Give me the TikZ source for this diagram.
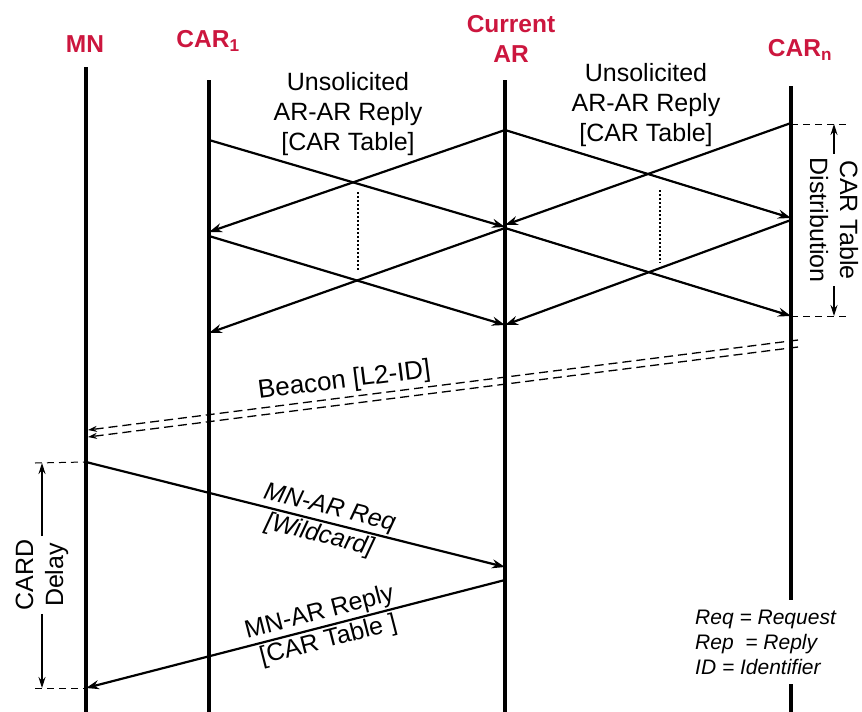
\documentclass[tikz,border=0pt]{standalone}
\usepackage{fontspec}
\setmainfont{Liberation Sans}
\usepackage{xcolor}
\usepackage{tikz}
\usetikzlibrary{arrows.meta}
\definecolor{hdrred}{RGB}{204,22,62}

\begin{document}
\begin{tikzpicture}[x=1pt, y=-1pt,
    actor/.style={font=\fontsize{24.5}{30}\selectfont\bfseries, text=hdrred, align=center},
    lifeline/.style={line width=4.5pt},
    arrow/.style={line width=2.2pt, ->, >={Stealth[length=13pt,width=9pt]}},
    beacon/.style={line width=1.3pt, dash pattern=on 9pt off 5pt, ->, >={Stealth[length=9pt,width=6pt]}},
    waitline/.style={line width=2.2pt, dash pattern=on 2pt off 2pt},
    guide/.style={line width=1pt, dash pattern=on 7pt off 5pt},
    dimarrow/.style={line width=1.2pt, ->, >={Stealth[length=11pt,width=7pt]}},
    msgtext/.style={font=\fontsize{25}{30}\selectfont, align=center},
    legend/.style={font=\fontsize{21}{25}\selectfont\itshape, align=left, fill=white, inner xsep=5pt, inner ysep=10pt}]

    \useasboundingbox (0,0) rectangle (862,712);

    % 节点定义
    \node [actor] (mn) at (85,44) {MN};
    \node [actor] (car1) at (208,41) {CAR\textsubscript{1}};
    \node [actor] (cur) at (511,39) {Current\\AR};
    \node [actor] (carn) at (800,50) {CAR\textsubscript{n}};

    % 生命线
    \coordinate (mn-top) at (86,67);
    \coordinate (car1-top) at (209,80);
    \coordinate (cur-top) at (505,80);
    \coordinate (carn-top) at (791,86);
    \draw [lifeline] (mn-top) -- (86,712);
    \draw [lifeline] (car1-top) -- (209,712);
    \draw [lifeline] (cur-top) -- (505,712);
    \draw [lifeline] (carn-top) -- (791,712);

    % 消息端点
    \coordinate (a1) at (209,140);
    \coordinate (a2) at (209,232);
    \coordinate (a3) at (209,236);
    \coordinate (a4) at (209,333);
    \coordinate (b0) at (505,130);
    \coordinate (b1) at (505,227);
    \coordinate (b2) at (505,225);
    \coordinate (b3) at (505,228);
    \coordinate (b4) at (505,325);
    \coordinate (b5) at (505,325);
    \coordinate (c0) at (791,123);
    \coordinate (c1) at (791,218);
    \coordinate (c2) at (791,220);
    \coordinate (c3) at (791,316);

    % CAR 表分发
    \draw [arrow] (a1) -- (b1);
    \draw [arrow] (b0) -- (a2);
    \draw [arrow] (b0) -- (c1);
    \draw [arrow] (c0) -- (b2);
    \draw [arrow] (a3) -- (b4);
    \draw [arrow] (b3) -- (a4);
    \draw [arrow] (b3) -- (c3);
    \draw [arrow] (c2) -- (b5);
    \draw [waitline] (358,192) -- (358,270);
    \draw [waitline] (660,190) -- (660,263);
    \node [msgtext] (unsol1) at (348,114) {Unsolicited\\AR-AR Reply\\{}[CAR Table]};
    \node [msgtext] (unsol2) at (646,105) {Unsolicited\\AR-AR Reply\\{}[CAR Table]};

    % 信标
    \coordinate (bcn-s1) at (798,340);
    \coordinate (bcn-e1) at (88,430);
    \coordinate (bcn-s2) at (798,347);
    \coordinate (bcn-e2) at (88,437);
    \draw [beacon] (bcn-s1) -- node [pos=0.636, sloped, above, msgtext, font=\fontsize{26}{30}\selectfont] (bcn) {Beacon [L2-ID]} (bcn-e1);
    \draw [beacon] (bcn-s2) -- (bcn-e2);

    % 请求与应答
    \coordinate (mn-req) at (86,462);
    \coordinate (cur-req) at (505,567);
    \coordinate (cur-rep) at (505,580);
    \coordinate (mn-rep) at (86,688);
    \draw [arrow] (mn-req) -- node [pos=0.573, sloped, above, inner sep=1.5pt, msgtext, font=\fontsize{25}{30}\selectfont\itshape] (req) {MN-AR Req}
        node [pos=0.565, sloped, below, inner sep=2pt, msgtext, font=\fontsize{25}{30}\selectfont\itshape] (req-arg) {[Wildcard]} (cur-req);
    \draw [arrow] (cur-rep) -- node [pos=0.434, sloped, above, inner sep=1.5pt, msgtext] (rep) {MN-AR Reply}
        node [pos=0.43, sloped, below, inner sep=2pt, msgtext] (rep-arg) {[CAR Table ]} (mn-rep);

    % 侧边标注
    \coordinate (dist-top) at (846,124);
    \coordinate (dist-bot) at (846,316);
    \draw [guide] (c0 |- dist-top) -- (dist-top);
    \draw [guide] (c0 |- dist-bot) -- (dist-bot);
    \node [msgtext, rotate=-90] (dist) at (834,220) {CAR Table\\Distribution};
    \draw [dimarrow] (dist.west) -- (dist.west |- dist-top);
    \draw [dimarrow] (dist.east) -- (dist.east |- dist-bot);

    \coordinate (card-top) at (35,463);
    \coordinate (card-bot) at (35,688);
    \draw [guide] (card-top) -- (mn-req);
    \draw [guide] (card-bot) -- (mn-rep);
    \node [msgtext, rotate=90] (card) at (42,575) {CARD\\Delay};
    \draw [dimarrow] (card.east) -- (card.east |- card-top);
    \draw [dimarrow] (card.west) -- (card.west |- card-bot);

    % 缩写说明
    \node [legend, anchor=west] (abbr) at (690,642) {Req = Request\\Rep\ \ = Reply\\ID = Identifier};
\end{tikzpicture}
\end{document}
